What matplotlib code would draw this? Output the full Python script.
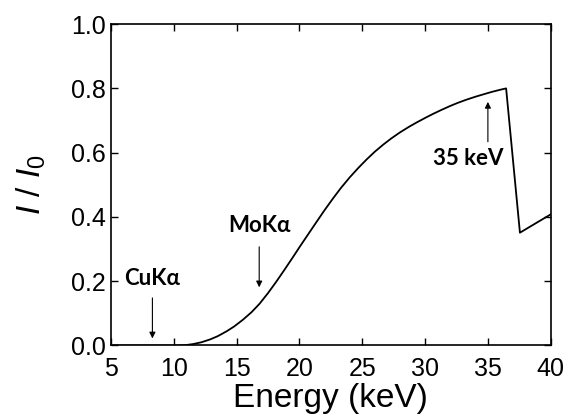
import matplotlib
matplotlib.use("Agg")
import matplotlib.pyplot as plt

# Data
energy = [5.0, 10.0, 10.5, 11.0, 11.55, 12.2, 12.9, 13.5, 14.2, 14.8, 15.5, 16.2,
          16.83, 17.5, 18.15, 18.8, 19.47, 20.04, 20.8, 21.37, 22.0, 22.7, 23.3,
          24.0, 24.7, 25.35, 26.0, 26.7, 27.3, 28.0, 28.7, 29.33, 30.0, 30.65,
          31.3, 31.98, 32.6, 33.3, 34.0, 34.6, 35.3, 36.0, 36.45, 37.55, 38.75, 40.0]
transmission = [0.0, 0.0, 0.0003, 0.0015, 0.0045, 0.010, 0.019, 0.029, 0.044, 0.059,
                0.080, 0.104, 0.130, 0.163, 0.198, 0.235, 0.274, 0.308, 0.352, 0.385,
                0.421, 0.459, 0.490, 0.523, 0.553, 0.579, 0.603, 0.626, 0.644, 0.663,
                0.680, 0.694, 0.708, 0.721, 0.733, 0.745, 0.755, 0.765, 0.774, 0.781,
                0.789, 0.796, 0.800, 0.351, 0.379, 0.408]

x_ticks = [5, 10, 15, 20, 25, 30, 35, 40]
y_ticks = [0.0, 0.2, 0.4, 0.6, 0.8, 1.0]

# annotations: label, arrow x, arrow start y, arrow tip y, label x, label y
ann_labels = ["CuKα", "MoKα", "35 keV"]
ann_x = [8.3, 16.8, 35.0]
ann_from = [0.148, 0.307, 0.634]
ann_to = [0.022, 0.181, 0.758]
lab_x = [8.3, 16.8, 33.4]
lab_y = [0.207, 0.372, 0.581]

plt.rcParams['mathtext.fontset'] = 'custom'
plt.rcParams['mathtext.rm'] = 'Liberation Sans'
plt.rcParams['mathtext.it'] = 'Liberation Sans:italic'

fig = plt.figure(figsize=(5.66, 4.16), dpi=100)
ax = fig.add_axes([0.196, 0.1695, 0.777, 0.7725])

ax.plot(energy, transmission, color='black', lw=1.3)

ax.set_xlim(5, 40)
ax.set_ylim(0, 1.0)
ax.set_xticks(x_ticks)
ax.set_yticks(y_ticks)
ax.set_xticklabels([str(t) for t in x_ticks], fontfamily='Liberation Sans', fontsize=18)
ax.set_yticklabels([f"{t:.1f}" for t in y_ticks], fontfamily='Liberation Sans', fontsize=18)
ax.tick_params(direction='in', length=5, width=1, top=True, right=True)
ax.tick_params(axis='x', pad=8)
ax.tick_params(axis='y', pad=4)
for s in ax.spines.values():
    s.set_linewidth(1.2)

ax.set_xlabel("Energy (keV)", fontfamily='Liberation Sans', fontsize=24, labelpad=2)
ax.set_ylabel(r"$I\ /\ I_0$", fontsize=24, labelpad=16)

for lab, xa, y0, y1, lx, ly in zip(ann_labels, ann_x, ann_from, ann_to, lab_x, lab_y):
    ax.annotate("", xy=(xa, y1), xytext=(xa, y0),
                arrowprops=dict(arrowstyle='-|>', color='black', lw=0.8,
                                mutation_scale=9, shrinkA=0, shrinkB=0))
    ax.text(lx, ly, lab, ha='center', va='center', fontsize=16,
            fontweight='bold', fontfamily='Lato')

fig.savefig("out.png", dpi=100)
